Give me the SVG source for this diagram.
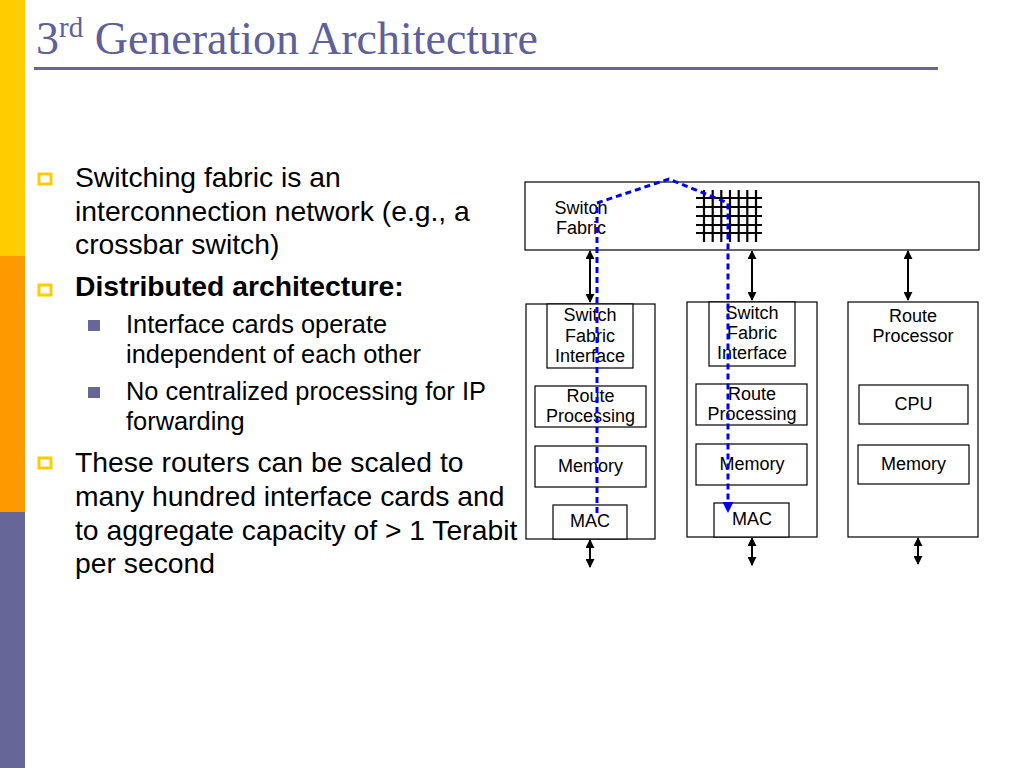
<svg xmlns="http://www.w3.org/2000/svg" width="1024" height="768" viewBox="0 0 1024 768">
<style>
.title{font-family:"Liberation Serif","Times New Roman",serif;fill:#5f5f99}
.main{font-family:"Liberation Sans",Arial,sans-serif;font-size:28.3px;fill:#000}
.sub{font-family:"Liberation Sans",Arial,sans-serif;font-size:25.4px;fill:#000}
.lbl{font-family:"Liberation Sans",Arial,sans-serif;font-size:18px;fill:#000;text-anchor:middle}
.box{fill:#fff;stroke:#000;stroke-width:1.2}
.grid{stroke:#000;stroke-width:2.2}
.arr{stroke:#000;stroke-width:2;fill:none;marker-start:url(#ah);marker-end:url(#ah)}
.bul{fill:none;stroke:#ffcc00;stroke-width:3}
.sbul{fill:#666699}
</style>
<defs>
<marker id="ah" viewBox="0 0 10 10" refX="9" refY="5" markerWidth="9" markerHeight="9" markerUnits="userSpaceOnUse" orient="auto-start-reverse">
<path d="M0,0 L10,5 L0,10 Z" fill="#000"/>
</marker>
<marker id="bh" viewBox="0 0 10 10" refX="9" refY="5" markerWidth="14" markerHeight="11" markerUnits="userSpaceOnUse" orient="auto">
<path d="M0,0 L10,5 L0,10 Z" fill="#0000ee"/>
</marker>
</defs>
<rect width="1024" height="768" fill="#fff"/>
<g id="sidebar">
<rect x="0" y="0" width="25" height="256" fill="#ffcc00"/>
<rect x="0" y="256" width="25" height="256" fill="#ff9900"/>
<rect x="0" y="512" width="25" height="256" fill="#666699"/>
</g>
<g id="title">
<text class="title" x="36" y="54" font-size="46">3<tspan font-size="29" dy="-17">rd</tspan><tspan dy="17"> Generation Architecture</tspan></text>
<rect x="34" y="67" width="904" height="3" fill="#666699"/>
</g>
<g id="bullets">
<rect class="bul" x="39" y="174" width="12" height="10"/>
<text class="main" x="75" y="187">Switching fabric is an</text>
<text class="main" x="75" y="221">interconnection network (e.g., a</text>
<text class="main" x="75" y="254">crossbar switch)</text>
<rect class="bul" x="39" y="285" width="12" height="10"/>
<text class="main" x="75" y="296" font-weight="bold">Distributed architecture:</text>
<rect class="sbul" x="88" y="320" width="12" height="11"/>
<text class="sub" x="126" y="333">Interface cards operate</text>
<text class="sub" x="126" y="363">independent of each other</text>
<rect class="sbul" x="88" y="387" width="12" height="11"/>
<text class="sub" x="126" y="400">No centralized processing for IP</text>
<text class="sub" x="126" y="430">forwarding</text>
<rect class="bul" x="39" y="458" width="12" height="10"/>
<text class="main" x="75" y="472">These routers can be scaled to</text>
<text class="main" x="75" y="506">many hundred interface cards and</text>
<text class="main" x="75" y="540">to aggregate capacity of &gt; 1 Terabit</text>
<text class="main" x="75" y="573">per second</text>
</g>
<g id="switch-fabric">
<rect class="box" x="525" y="182" width="454" height="68"/>
<text class="lbl" x="581" y="214">Switch</text>
<text class="lbl" x="581" y="234">Fabric</text>
<g class="grid">
<line x1="696" y1="198" x2="762" y2="198"/>
<line x1="696" y1="207" x2="762" y2="207"/>
<line x1="696" y1="216" x2="762" y2="216"/>
<line x1="696" y1="225" x2="762" y2="225"/>
<line x1="696" y1="233" x2="762" y2="233"/>
<line x1="704" y1="190" x2="704" y2="242"/>
<line x1="712.7" y1="190" x2="712.7" y2="242"/>
<line x1="721.3" y1="190" x2="721.3" y2="242"/>
<line x1="730" y1="190" x2="730" y2="242"/>
<line x1="738.7" y1="190" x2="738.7" y2="242"/>
<line x1="747.3" y1="190" x2="747.3" y2="242"/>
<line x1="756" y1="190" x2="756" y2="242"/>
</g>
</g>
<g id="card1">
<rect class="box" x="526" y="304" width="129" height="235"/>
<rect class="box" x="547" y="304" width="86" height="64"/>
<text class="lbl" x="590" y="321">Switch</text>
<text class="lbl" x="590" y="342">Fabric</text>
<text class="lbl" x="590" y="362">Interface</text>
<rect class="box" x="535" y="386" width="111" height="41"/>
<text class="lbl" x="590.5" y="402">Route</text>
<text class="lbl" x="590.5" y="422">Processing</text>
<rect class="box" x="535" y="446" width="111" height="41"/>
<text class="lbl" x="590.5" y="472">Memory</text>
<rect class="box" x="553" y="505" width="74" height="34"/>
<text class="lbl" x="590" y="527">MAC</text>
</g>
<g id="card2">
<rect class="box" x="687" y="302" width="130" height="235"/>
<rect class="box" x="709" y="302" width="86" height="64"/>
<text class="lbl" x="752" y="319">Switch</text>
<text class="lbl" x="752" y="339">Fabric</text>
<text class="lbl" x="752" y="359">Interface</text>
<rect class="box" x="696" y="384" width="111" height="41"/>
<text class="lbl" x="752" y="400">Route</text>
<text class="lbl" x="752" y="420">Processing</text>
<rect class="box" x="696" y="444" width="111" height="41"/>
<text class="lbl" x="752" y="470">Memory</text>
<rect class="box" x="714" y="503" width="75" height="34"/>
<text class="lbl" x="752" y="525">MAC</text>
</g>
<g id="route-processor">
<rect class="box" x="848" y="302" width="130" height="235"/>
<text class="lbl" x="913" y="322">Route</text>
<text class="lbl" x="913" y="342">Processor</text>
<rect class="box" x="859" y="385" width="109" height="39"/>
<text class="lbl" x="913.5" y="410">CPU</text>
<rect class="box" x="858" y="445" width="111" height="39"/>
<text class="lbl" x="913.5" y="470">Memory</text>
</g>
<g id="connectors">
<line class="arr" x1="590" y1="251" x2="590" y2="302"/>
<line class="arr" x1="752" y1="251" x2="752" y2="300"/>
<line class="arr" x1="908" y1="251" x2="908" y2="300"/>
<line class="arr" x1="590" y1="540" x2="590" y2="567"/>
<line class="arr" x1="752" y1="538" x2="752" y2="565"/>
<line class="arr" x1="918" y1="538" x2="918" y2="564"/>
<polyline points="597,513 597,203 669,179 728,203 728,512" fill="none" stroke="#0000ee" stroke-width="3" stroke-dasharray="6,4" marker-end="url(#bh)"/>
</g>
</svg>
